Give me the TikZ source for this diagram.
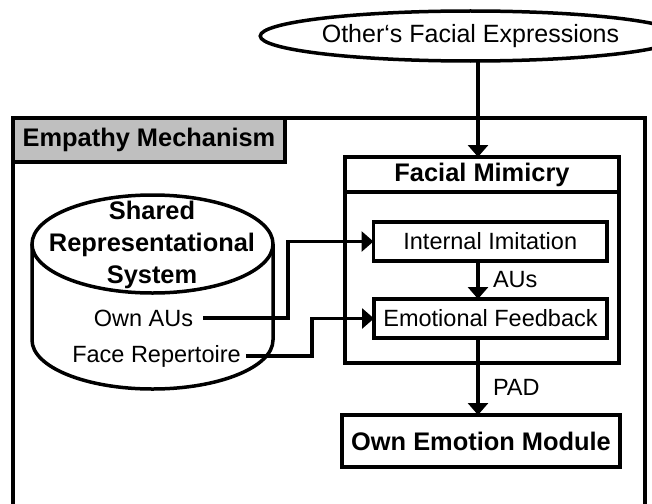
\documentclass[tikz,border=0pt]{standalone}
\usepackage{fontspec}
\setmainfont{Liberation Sans}
\usetikzlibrary{arrows.meta,shapes.geometric,calc}

\tikzset{
  reg/.style={font=\fontsize{23.5}{28}\selectfont},
  bld/.style={font=\fontsize{25.4}{32}\selectfont\bfseries},
  boxed/.style={draw, line width=3.5pt, rectangle, inner sep=0pt, outer sep=0pt},
  plain/.style={inner sep=0pt, outer sep=0pt},
  arr/.style={line width=3.5pt, -{Triangle[length=12pt,width=20pt]}},
  wire/.style={line width=3.5pt},
}

\begin{document}
\begin{tikzpicture}[x=1pt,y=1pt]
  \useasboundingbox (0,0) rectangle (652,-503);

  % outer frame of the empathy mechanism (runs past the lower edge)
  \draw[wire] (13,-510) -- (13,-118) -- (645,-118) -- (645,-510);
  \node[boxed, fill=black!25, minimum width=272, minimum height=44, bld] (emp) at (149,-140) {Empathy Mechanism};

  % external input
  \node[draw, ellipse, line width=3.5pt, inner sep=0pt, outer sep=0pt,
        minimum width=361, minimum height=50,
        font=\fontsize{25}{28}\selectfont] (others) at (470.5,-36) {Other‘s Facial Expressions};

  % facial mimicry block
  \node[boxed, minimum width=274, minimum height=206] (fm) at (482,-260) {};
  \coordinate (hdr) at (0,-192);
  \draw[wire] (fm.west |- hdr) -- (fm.east |- hdr);
  \node[plain, bld] (fmtitle) at (482,-175) {Facial Mimicry};

  \node[boxed, minimum width=233.5, minimum height=39, reg] (ii) at (490.25,-241.5) {Internal Imitation};
  \node[boxed, minimum width=233, minimum height=39, reg] (ef) at (490.5,-318.5) {Emotional Feedback};

  \node[boxed, minimum width=278, minimum height=52, bld] (oe) at (481,-441) {Own Emotion Module};

  % shared representational system (cylinder)
  \draw[wire] (32,-244) -- (32,-340) arc[start angle=180, end angle=360, x radius=120.5, y radius=49] -- (273,-244);
  \draw[wire, fill=white] (152.5,-244) ellipse[x radius=120.5, y radius=49];
  \node[plain, bld, align=center] (srs) at (152,-245) {Shared\\Representational\\System};
  \node[plain, reg] (ownaus) at (143.5,-318) {Own AUs};
  \node[plain, reg] (facerep) at (156.5,-356) {Face Repertoire};

  % connectors
  \coordinate (ax) at (478,0);
  \coordinate (j1) at (288,-241.5);
  \coordinate (j2) at (312,-318.5);
  \draw[arr] (others.south -| ax) -- (fm.north -| ax);
  \draw[arr] ([xshift=10pt]ownaus.east) -| (j1) -- (ii.west);
  \draw[arr] ([xshift=5pt]facerep.east) -| (j2) -- (ef.west);
  \draw[arr] (ii.south -| ax) -- (ef.north -| ax)
    node[midway, anchor=west, plain, xshift=15pt, reg] (aus) {AUs};
  \draw[arr] (ef.south -| ax) -- (oe.north -| ax)
    node[pos=0.64, anchor=west, plain, xshift=15pt, reg] (pad) {PAD};
\end{tikzpicture}
\end{document}
